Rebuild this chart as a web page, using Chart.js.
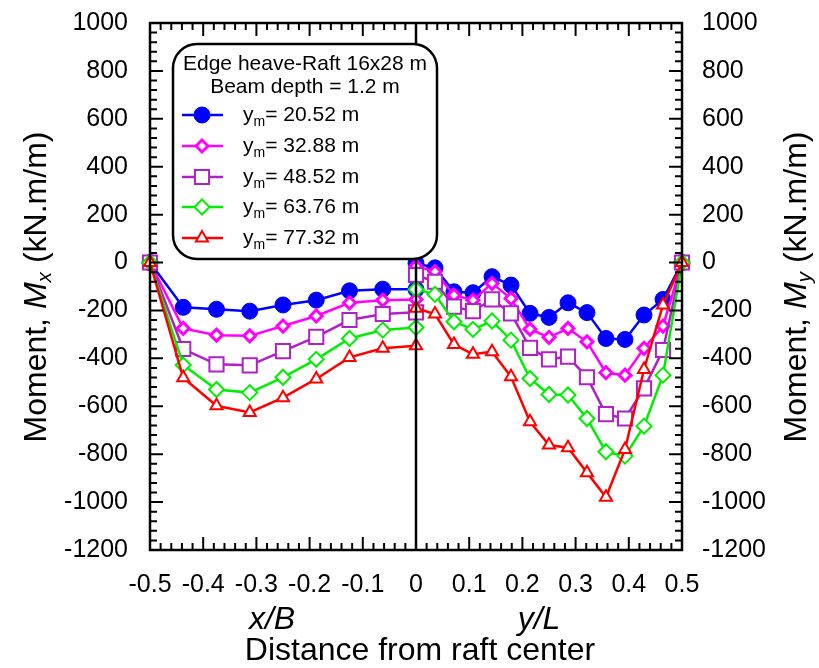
<!DOCTYPE html>
<html>
<head>
<meta charset="utf-8">
<script src="https://cdn.jsdelivr.net/npm/chart.js@4.4.1/dist/chart.umd.min.js"></script>
<style>
  html, body { margin: 0; padding: 0; background: #fff; }
</style>
</head>
<body>
<canvas id="chartMoment" width="819" height="668"></canvas>
<script>
// x/B positions (left half) and y/L positions (right half)
const xB = [-0.5, -0.4375, -0.375, -0.3125, -0.25, -0.1875, -0.125, -0.0625, 0];
const yL = [0, 0.0357, 0.0714, 0.1071, 0.1429, 0.1786, 0.2143, 0.25, 0.2857, 0.3214, 0.3571, 0.3929, 0.4286, 0.4643, 0.5];

const ymLabels = ['20.52', '32.88', '48.52', '63.76', '77.32'];

// Mx along x/B, My along y/L (kN.m/m)
const mx2052 = [0, -187, -195, -203, -177, -157, -118, -111, -112];
const my2052 = [-3, -22, -122, -126, -59, -94, -212, -229, -168, -209, -317, -321, -219, -154, 0];
const mx3288 = [0, -275, -303, -306, -265, -223, -168, -157, -154];
const my3288 = [-15, -38, -136, -157, -87, -150, -278, -312, -275, -331, -460, -470, -358, -265, 0];
const mx4852 = [0, -361, -425, -429, -370, -310, -240, -215, -208];
const my4852 = [-52, -80, -184, -203, -154, -212, -356, -404, -393, -479, -633, -651, -525, -365, 0];
const mx6376 = [0, -428, -530, -543, -479, -404, -317, -282, -271];
const my6376 = [-112, -133, -247, -279, -244, -324, -484, -551, -553, -651, -790, -808, -683, -470, 0];
const mx7732 = [0, -481, -598, -626, -564, -486, -396, -358, -347];
const my7732 = [-191, -215, -342, -383, -372, -477, -665, -762, -773, -877, -980, -780, -446, -177, 0];

const FONT = "'Liberation Sans', Arial, sans-serif";

const styles = [
  { color: '#0000ff', fill: '#0000ff', pointStyle: 'circle',   radius: 8, bw: 1 },
  { color: '#ff00ff', fill: '#ffffff', pointStyle: 'rectRot',  radius: 6, bw: 3 },
  { color: '#b020c8', fill: '#ffffff', pointStyle: 'rect',     radius: 10, bw: 2 },
  { color: '#00ee00', fill: '#ffffff', pointStyle: 'rectRot',  radius: 7.5, bw: 2 },
  { color: '#ff0000', fill: '#ffffff', pointStyle: 'triangle', radius: 7, bw: 2 }
];
const mxSets = [mx2052, mx3288, mx4852, mx6376, mx7732];
const mySets = [my2052, my3288, my4852, my6376, my7732];

function makeSet(xs, ys, i) {
  const s = styles[i];
  return {
    data: xs.map((x, k) => ({ x, y: ys[k] })),
    borderColor: s.color, backgroundColor: s.fill,
    pointBorderColor: s.color, pointBackgroundColor: s.fill,
    pointStyle: s.pointStyle, pointRadius: s.radius, pointBorderWidth: s.bw,
    borderWidth: 2.5, showLine: true, clip: false, order: 5 - i
  };
}
const datasets = [];
mxSets.forEach((ys, i) => datasets.push(makeSet(xB, ys, i)));
mySets.forEach((ys, i) => datasets.push(makeSet(yL, ys, i)));

// draws text made of parts with different fonts, centred at (cx, cy)
function drawRich(ctx, parts, cx, cy, rot, align) {
  ctx.save();
  ctx.translate(cx, cy);
  ctx.rotate(rot || 0);
  ctx.textBaseline = 'middle';
  ctx.textAlign = 'left';
  let total = 0;
  parts.forEach(p => { ctx.font = p.font; p.w = ctx.measureText(p.text).width; total += p.w; });
  let x = align === 'left' ? 0 : -total / 2;
  parts.forEach(p => { ctx.font = p.font; ctx.fillText(p.text, x, p.dy || 0); x += p.w; });
  ctx.restore();
}

const frameTicks = {
  id: 'frameTicks',
  afterDatasetsDraw(chart) {
    const ctx = chart.ctx, a = chart.chartArea, sx = chart.scales.x, sy = chart.scales.y;
    ctx.save();
    ctx.strokeStyle = '#000';
    ctx.lineWidth = 2.5;
    const x0 = sx.getPixelForValue(0);
    ctx.beginPath(); ctx.moveTo(x0, a.top); ctx.lineTo(x0, a.bottom); ctx.stroke();
    ctx.lineWidth = 2;
    ctx.beginPath();
    for (let k = -25; k <= 25; k++) {
      const px = sx.getPixelForValue(k * 0.02), len = k % 5 === 0 ? 13 : 7;
      ctx.moveTo(px, a.bottom); ctx.lineTo(px, a.bottom - len);
      ctx.moveTo(px, a.top); ctx.lineTo(px, a.top + len);
    }
    for (let k = -30; k <= 25; k++) {
      const py = sy.getPixelForValue(k * 40), len = k % 5 === 0 ? 13 : 7;
      ctx.moveTo(a.left, py); ctx.lineTo(a.left + len, py);
      ctx.moveTo(a.right, py); ctx.lineTo(a.right - len, py);
    }
    ctx.stroke();
    ctx.lineWidth = 2.5;
    ctx.strokeRect(a.left, a.top, a.right - a.left, a.bottom - a.top);
    ctx.restore();
  }
};

const legendBox = {
  id: 'legendBox',
  afterDraw(chart) {
    const ctx = chart.ctx;
    const bx = 173, by = 44, bw = 264, bh = 215, r = 24;
    ctx.save();
    ctx.beginPath();
    ctx.roundRect(bx, by, bw, bh, r);
    ctx.fillStyle = '#fff'; ctx.fill();
    ctx.lineWidth = 2.5; ctx.strokeStyle = '#000'; ctx.stroke();
    ctx.fillStyle = '#000';
    ctx.font = '21px ' + FONT;
    ctx.textAlign = 'center'; ctx.textBaseline = 'middle';
    ctx.fillText('Edge heave-Raft 16x28 m', 305, 64);
    ctx.fillText('Beam depth = 1.2 m', 305, 87);
    const rows = [115, 146, 177, 207, 238];
    styles.forEach((s, i) => {
      const y = rows[i];
      ctx.strokeStyle = s.color; ctx.lineWidth = 2.5;
      ctx.beginPath(); ctx.moveTo(182, y); ctx.lineTo(223, y); ctx.stroke();
      ctx.fillStyle = s.fill; ctx.lineWidth = s.bw;
      Chart.helpers.drawPoint(ctx, { pointStyle: s.pointStyle, radius: s.radius, rotation: 0, borderWidth: s.bw }, 202, y);
      ctx.fillStyle = '#000';
      drawRich(ctx, [
        { text: 'y', font: '21px ' + FONT },
        { text: 'm', font: '14px ' + FONT, dy: 7 },
        { text: '= ' + ymLabels[i] + ' m', font: '21px ' + FONT }
      ], 243, y, 0, 'left');
    });
    ctx.restore();
  }
};

const axisTitles = {
  id: 'axisTitles',
  afterDraw(chart) {
    const ctx = chart.ctx;
    ctx.save();
    ctx.fillStyle = '#000';
    const big = '32px ' + FONT, it = 'italic 32px ' + FONT, sub = 'italic 21px ' + FONT;
    drawRich(ctx, [
      { text: 'Moment, ', font: big }, { text: 'M', font: it },
      { text: 'x', font: sub, dy: 8 }, { text: ' (kN.m/m)', font: big }
    ], 37, 287, -Math.PI / 2);
    drawRich(ctx, [
      { text: 'Moment, ', font: big }, { text: 'M', font: it },
      { text: 'y', font: sub, dy: 8 }, { text: ' (kN.m/m)', font: big }
    ], 797, 287, -Math.PI / 2);
    drawRich(ctx, [{ text: 'x/B', font: it }], 272, 620);
    drawRich(ctx, [{ text: 'y/L', font: it }], 539, 620);
    drawRich(ctx, [{ text: 'Distance from raft center', font: big }], 420, 651);
    ctx.restore();
  }
};

Chart.defaults.font.family = FONT;
Chart.defaults.color = '#000';

const fitY = w => s => { s.width = w; s.paddingTop = 0; s.paddingBottom = 0; };
const yTicks = pad => ({ stepSize: 200, font: { size: 25 }, color: '#000', padding: pad, callback: v => String(v) });
new Chart(document.getElementById('chartMoment'), {
  type: 'scatter',
  data: { datasets },
  options: {
    responsive: false, animation: false, devicePixelRatio: 1,
    layout: { padding: { top: 23, left: 0, right: 0, bottom: 0 } },
    plugins: { legend: { display: false }, tooltip: { enabled: false } },
    scales: {
      x: {
        type: 'linear', min: -0.5, max: 0.5,
        ticks: { stepSize: 0.1, font: { size: 25 }, color: '#000', padding: 12, maxRotation: 0, autoSkip: false,
                 callback: v => String(Math.round(v * 10) / 10) },
        grid: { display: false }, border: { display: false },
        afterFit: s => { s.height = 118; s.paddingLeft = 0; s.paddingRight = 0; }
      },
      y: {
        min: -1200, max: 1000, ticks: yTicks(14),
        grid: { display: false }, border: { display: false },
        afterFit: fitY(150)
      },
      y2: {
        position: 'right', min: -1200, max: 1000, ticks: yTicks(12),
        grid: { display: false }, border: { display: false },
        afterFit: fitY(137)
      }
    }
  },
  plugins: [frameTicks, legendBox, axisTitles]
});
</script>
</body>
</html>
